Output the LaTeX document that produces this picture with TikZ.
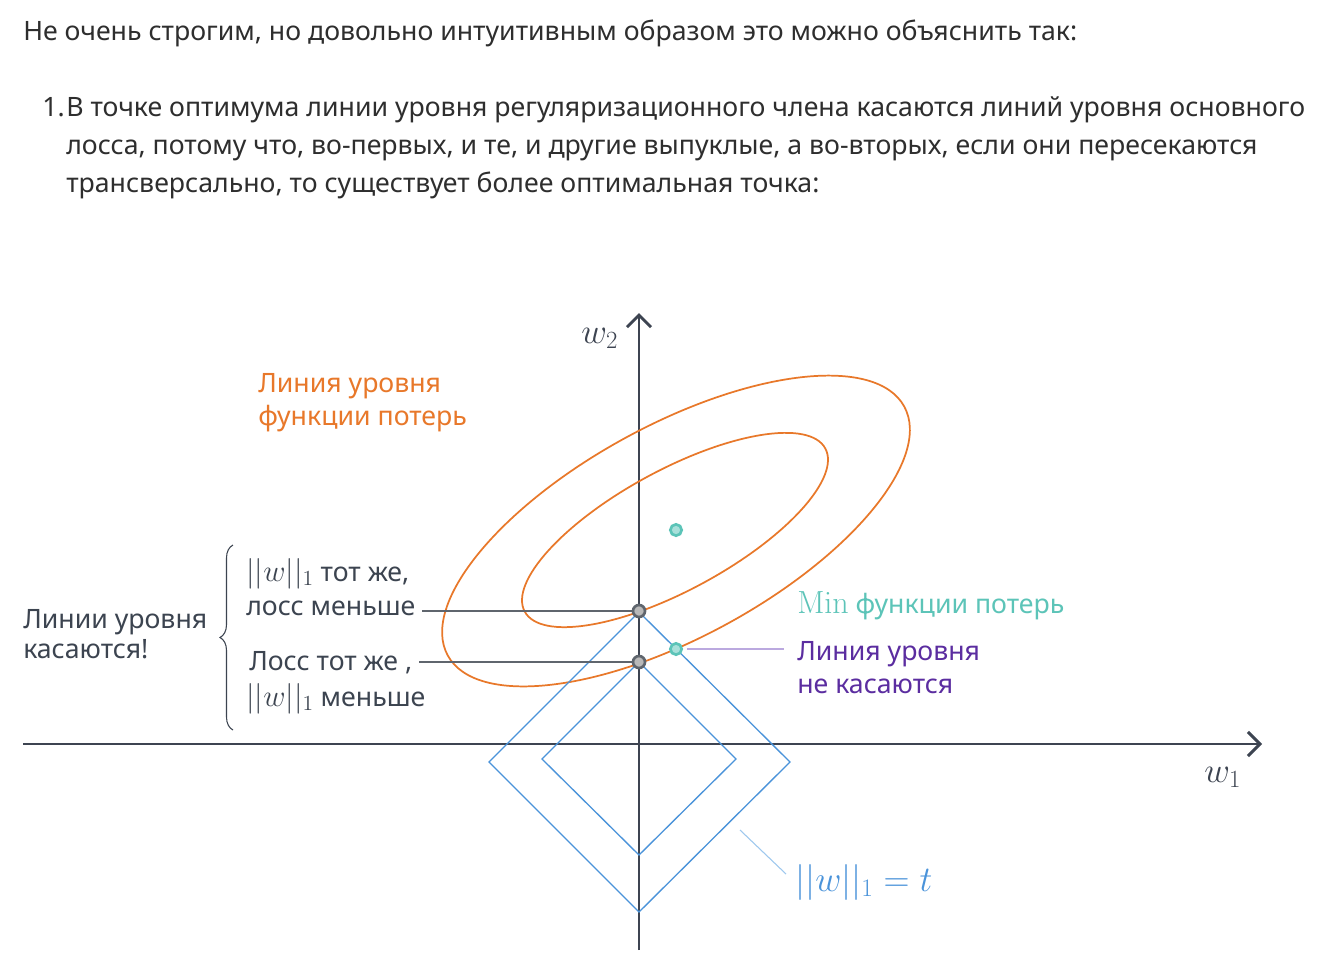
\RequirePackage{fix-cm}
\documentclass[tikz,border=0pt]{standalone}
\usepackage[no-math]{fontspec}
\setmainfont{Noto Sans}
\usepackage{tikz}
\usetikzlibrary{arrows.meta,decorations.pathreplacing}

\definecolor{axisgray}{HTML}{3D4451}
\definecolor{textgray}{HTML}{2E2E2E}
\definecolor{labelgray}{HTML}{3C4450}
\definecolor{leadgray}{HTML}{5F656D}
\definecolor{lossorange}{HTML}{E8782A}
\definecolor{normblue}{HTML}{4A93DA}
\definecolor{normlight}{HTML}{9EC8EE}
\definecolor{minteal}{HTML}{5CC4B8}
\definecolor{tealfill}{HTML}{A8E0DA}
\definecolor{crosspurple}{HTML}{5B2DA0}
\definecolor{crosslight}{HTML}{BBA9DF}

\newcommand{\normw}{{\fontsize{23}{26}\selectfont$||w||_1$}}

\begin{document}
\begin{tikzpicture}[x=0.75pt, y=-0.75pt,
  every node/.style={inner sep=0pt, font=\fontsize{20}{24}\selectfont},
  txt/.style={anchor=base west, text=textgray},
  lbl/.style={anchor=base west, text=labelgray},
  axis/.style={draw=axisgray, line width=2.2pt, -{Straight Barb[length=9pt, width=18pt]}},
  lossline/.style={draw=lossorange, line width=1.3pt},
  normline/.style={draw=normblue, line width=1pt},
  leader/.style={draw=leadgray, line width=1.2pt},
  graydot/.style={circle, draw=leadgray, fill=gray!55, line width=2pt, minimum size=9pt},
  tealdot/.style={circle, draw=minteal, fill=tealfill, line width=2pt, minimum size=8.5pt}]
\fill[white] (0,0) rectangle (1334,958);
\useasboundingbox (0,0) rectangle (1334,958);

% text above the plot
\node[txt] (intro) at (23,40) {Не очень строгим, но довольно интуитивным образом это можно объяснить так:};
\node[txt] (num) at (42,116) {1.};
\node[txt] (item1) at (66,116) {В точке оптимума линии уровня регуляризационного члена касаются линий уровня основного};
\node[txt] (item2) at (66,154) {лосса, потому что, во-первых, и те, и другие выпуклые, а во-вторых, если они пересекаются};
\node[txt] (item3) at (66,192) {трансверсально, то существует более оптимальная точка:};

% axes
\coordinate (xstart) at (23,744);
\coordinate (xend) at (1262,744);
\coordinate (ystart) at (639,950);
\coordinate (yend) at (639,313);
\draw[axis] (xstart) -- (xend);
\draw[axis] (ystart) -- (yend);
\node[anchor=base west, text=axisgray, font=\fontsize{26.5}{30}\selectfont] (w2) at (581,343) {$w_2$};
\node[anchor=base west, text=axisgray, font=\fontsize{26.5}{30}\selectfont] (w1) at (1204,782) {$w_1$};

% level lines of the loss
\draw[lossline, rotate around={28.6:(676,531)}] (676,531) ellipse [x radius=195pt, y radius=79.5pt];
\draw[lossline, rotate around={28.5:(675,530)}] (675,530) ellipse [x radius=128.25pt, y radius=45pt];

% level lines of the norm
\draw[normline] (639,612) -- (790,762) -- (639,912) -- (489,762) -- cycle;
\draw[normline] (639,662) -- (736,759) -- (639,855) -- (542,759) -- cycle;

% points
\node[graydot] (touchA) at (639,611) {};
\node[graydot] (touchB) at (639,662) {};
\node[tealdot] (minpt) at (676,530) {};
\node[tealdot] (crosspt) at (676,649) {};

% labels
\node[anchor=base west, text=lossorange] (lossA) at (258,392) {Линия уровня};
\node[anchor=base west, text=lossorange] (lossB) at (258,425) {функции потерь};
\node[lbl] (touch1) at (23,628) {Линии уровня};
\node[lbl] (touch2) at (23,658) {касаются!};
\node[lbl] (sameA) at (246,581) {\normw{} тот же,};
\node[lbl] (sameB) at (246,615) {лосс меньше};
\node[lbl] (sameC) at (249,670) {Лосс тот же ,};
\node[lbl] (sameD) at (246,706) {\normw{} меньше};
\node[anchor=base west, text=minteal] (minlbl) at (797,613) {{\fontsize{24}{26}\selectfont$\mathrm{Min}$} функции потерь};
\node[anchor=base west, text=crosspurple] (crossA) at (797,660) {Линия уровня};
\node[anchor=base west, text=crosspurple] (crossB) at (797,693) {не касаются};
\node[anchor=base west, text=normblue, font=\fontsize{27}{30}\selectfont] (normlbl) at (795,891) {$||w||_1 = t$};

% brace and leaders
\draw[draw=labelgray, line width=0.8pt, decorate, decoration={brace, amplitude=9.75pt}] (233,730) -- (233,545);
\draw[leader, shorten >=5pt] (touchA) -- (touchA -| sameB.east);
\draw[leader, shorten >=5pt] (touchB) -- (touchB -| sameC.east);
\draw[draw=crosslight, line width=0.8pt, shorten <=3pt, shorten >=10pt] (crosspt) -- (crosspt -| crossA.west);
\coordinate (normtip) at (740,830);
\draw[draw=normlight, line width=0.8pt] (normtip) -- ([xshift=-6.75pt, yshift=6pt]normlbl.west);
\end{tikzpicture}
\end{document}
